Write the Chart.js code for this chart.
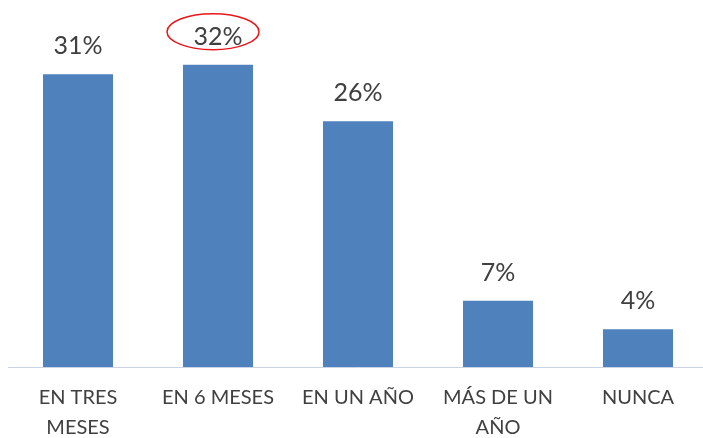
<!DOCTYPE html>
<html>
<head>
<meta charset="utf-8">
<script src="https://cdn.jsdelivr.net/npm/chart.js@4.4.1/dist/chart.umd.min.js"></script>
<style>
  html, body { margin: 0; padding: 0; background: #fff; overflow: hidden; }
  #wrap { width: 716px; height: 438px; position: relative; }
</style>
</head>
<body>
<div id="wrap"><canvas id="grafico"></canvas></div>
<script>
const categorias = [['EN TRES', 'MESES'], 'EN 6 MESES', 'EN UN AÑO', ['MÁS DE UN', 'AÑO'], 'NUNCA'];
const porcentajes = [31, 32, 26, 7, 4];
const destacado = 1; // barra con el óvalo rojo

const etiquetasPlugin = {
  id: 'etiquetas',
  afterDatasetsDraw(chart) {
    const ctx = chart.ctx;
    const meta = chart.getDatasetMeta(0);
    ctx.save();
    ctx.font = '25px Lato, "Noto Sans", sans-serif';
    ctx.fillStyle = '#404040';
    ctx.textAlign = 'center';
    ctx.textBaseline = 'middle';
    meta.data.forEach((bar, i) => {
      ctx.fillText(porcentajes[i] + '%', bar.x, bar.y - 28);
    });
    // óvalo rojo alrededor del valor destacado
    const b = meta.data[destacado];
    ctx.beginPath();
    ctx.ellipse(b.x - 5, b.y - 33, 46, 18, 0, 0, Math.PI * 2);
    ctx.strokeStyle = '#e8161b';
    ctx.lineWidth = 1.5;
    ctx.stroke();
    ctx.restore();
  }
};

new Chart(document.getElementById('grafico'), {
  type: 'bar',
  data: {
    labels: categorias,
    datasets: [{
      data: porcentajes,
      backgroundColor: '#4f81bd',
      borderWidth: 0,
      barPercentage: 1,
      categoryPercentage: 0.5
    }]
  },
  options: {
    responsive: true,
    maintainAspectRatio: false,
    animation: false,
    layout: { padding: { left: 8, right: 8, top: 8, bottom: 0 } },
    plugins: { legend: { display: false }, tooltip: { enabled: false } },
    scales: {
      x: {
        grid: { display: false },
        border: { display: true, color: '#c9d3e6', width: 1 },
        ticks: {
          color: '#404040',
          font: { family: 'Lato, "Noto Sans", sans-serif', size: 20, lineHeight: 1.5 },
          maxRotation: 0,
          padding: 8
        },
        afterFit(scale) { scale.height = 71; }
      },
      y: {
        display: false,
        min: 0,
        max: 38
      }
    }
  },
  plugins: [etiquetasPlugin]
});
</script>
</body>
</html>
